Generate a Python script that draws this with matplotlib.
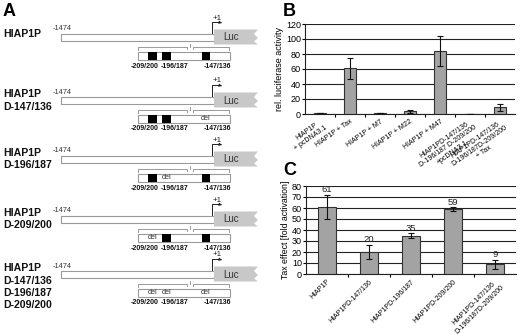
import numpy as np
import matplotlib
matplotlib.use("Agg")
from matplotlib import pyplot as plt
from matplotlib.patches import Rectangle, Polygon

plt.rcParams["font.family"] = ["Liberation Sans", "DejaVu Sans"]

# ---- panel A: constructs ----
construct_names = [
    ["HIAP1P"],
    ["HIAP1P", "D-147/136"],
    ["HIAP1P", "D-196/187"],
    ["HIAP1P", "D-209/200"],
    ["HIAP1P", "D-147/136", "D-196/187", "D-209/200"],
]
site_names = ["-209/200", "-196/187", "-147/136"]
# which sites are deleted in each construct (True = deleted)
deleted = [
    [False, False, False],
    [False, False, True],
    [False, True, False],
    [True, False, False],
    [True, True, True],
]

# ---- panel B ----
b_labels = [
    "HIAP1P\n+ pcDNA3.1",
    "HIAP1P + Tax",
    "HIAP1P + M7",
    "HIAP1P + M22",
    "HIAP1P + M47",
    "HIAP1PD-147/136\nD-196/187 D-209/200\n+pcDNA3.1",
    "HIAP1PD-147/136\nD-196/187D-209/200\n+ Tax",
]
b_values = [1, 61, 1, 4, 84, 0.5, 9]
b_errors = [0, 14, 0.3, 2, 20, 0, 5]

# ---- panel C ----
c_labels = [
    "HIAP1P",
    "HIAP1PD-147/136",
    "HIAP1PD-196/187",
    "HIAP1PD-209/200",
    "HIAP1PD-147/136\nD-196/187D-209/200",
]
c_values = [61, 20, 35, 59, 9]
c_errors = [11, 6.5, 2, 1.5, 4]

W, H = 520, 334
fig = plt.figure(figsize=(W / 100, H / 100), dpi=100)

# panel A drawn in pixel coordinates
axA = fig.add_axes([0, 0, 270 / W, 1])
axA.set_xlim(0, 270)
axA.set_ylim(H, 0)
axA.axis("off")

row_y = [37, 100, 159, 219, 274]        # centre of the promoter bar
bar_x0, bar_x1 = 61, 214                 # promoter bar
luc_x1 = 258
box_x0, box_x1 = 138, 230                # enlarged region
site_x = [(148, 157), (162, 171), (202, 210)]
site_label_x = [145, 175, 217]
edge = "#9a9a9a"

for names, dels, y in zip(construct_names, deleted, row_y):
    # row label
    top = y - 8 if len(names) == 1 else y - 11
    for k, nm in enumerate(names):
        axA.text(3, top + 12.5 * k, nm, fontsize=7.6, fontweight="bold",
                 va="top", ha="left", color="#111111")
    axA.text(53, y - 8, "-1474", fontsize=5.3, ha="left", va="center",
             color="#333333")
    axA.add_patch(Rectangle((bar_x0, y - 3.5), bar_x1 - bar_x0, 7,
                            facecolor="white", edgecolor=edge, lw=0.8))
    # Luc reporter with torn right end
    luc = Polygon([(bar_x1, y - 7.5), (luc_x1, y - 7.5), (luc_x1 - 4, y - 3),
                   (luc_x1, y + 1), (luc_x1 - 4, y + 4.5), (luc_x1, y + 7.5),
                   (bar_x1, y + 7.5)], closed=True,
                  facecolor="#c8c8c8", edgecolor="none")
    axA.add_patch(luc)
    axA.text(231, y + 0.5, "Luc", fontsize=7, ha="center", va="center",
             color="#333333")
    # transcription start arrow
    axA.plot([212, 212, 219], [y - 4, y - 15, y - 15], color="#222222", lw=0.7)
    axA.annotate("", xy=(222, y - 14), xytext=(218, y - 15),
                 arrowprops=dict(arrowstyle="-|>", color="#222222", lw=0.6,
                                 mutation_scale=4))
    axA.text(217, y - 19, "+1", fontsize=5.8, ha="center", va="center",
             color="#222222")
    # zoom brackets
    by = y + 10
    axA.plot([box_x0, box_x0, 187, 187], [by + 3, by, by, by + 2],
             color=edge, lw=0.7)
    axA.plot([193, 193, box_x1 - 1, box_x1 - 1], [by + 2, by, by, by + 3],
             color=edge, lw=0.7)
    axA.plot([190, 190], [by - 3, by], color=edge, lw=0.7)
    # enlarged region with binding sites
    axA.add_patch(Rectangle((box_x0, y + 15), box_x1 - box_x0, 8,
                            facecolor="white", edgecolor=edge, lw=0.8))
    for (sx0, sx1), is_del in zip(site_x, dels):
        if is_del:
            axA.text((sx0 + sx1) / 2, y + 18.5, "del", fontsize=5.3,
                     ha="center", va="center", color="#333333")
        else:
            axA.add_patch(Rectangle((sx0, y + 15), sx1 - sx0, 8,
                                    facecolor="black", edgecolor="none"))
    for lx, nm in zip(site_label_x, site_names):
        axA.text(lx, y + 29, nm, fontsize=5.0, fontweight="bold",
                 ha="center", va="center", color="#111111")

fig.text(3 / W, 1 - 3 / H, "A", fontsize=13, fontweight="bold",
         va="top", ha="left")
fig.text(283 / W, 1 - 3 / H, "B", fontsize=13, fontweight="bold",
         va="top", ha="left")
fig.text(283 / W, 1 - 162 / H, "C", fontsize=13, fontweight="bold",
         va="top", ha="left")


def bar_panel(rect, labels, values, errors, ymax, step, ylabel, angle,
              ylabel_size, show_values=False):
    ax = fig.add_axes(rect)
    x = np.arange(len(values))
    ax.bar(x, values, width=0.42, color="#a3a3a3", edgecolor="#333333",
           lw=0.8, zorder=3)
    ax.errorbar(x, values, yerr=errors, fmt="none", ecolor="#111111",
                elinewidth=0.8, capsize=2, capthick=0.8, zorder=4)
    ax.set_xlim(-0.5, len(values) - 0.5)
    ax.set_ylim(0, ymax)
    ax.set_yticks(np.arange(0, ymax + 1, step))
    ax.yaxis.grid(True, color="#222222", lw=0.8, zorder=0)
    ax.set_axisbelow(True)
    for s in ["top", "right"]:
        ax.spines[s].set_visible(False)
    for s in ["left", "bottom"]:
        ax.spines[s].set_color("#222222")
        ax.spines[s].set_linewidth(0.8)
    ax.tick_params(axis="y", labelsize=6.5, length=2, pad=1, width=0.8)
    ax.set_xticks(x)
    ax.set_xticklabels(labels, rotation=angle, ha="right", va="top",
                       rotation_mode="anchor", fontsize=5.0,
                       multialignment="center", linespacing=1.1)
    ax.tick_params(axis="x", which="major", length=0, pad=3)
    ax.set_xticks(np.arange(0.5, len(values) - 0.5), minor=True)
    ax.tick_params(axis="x", which="minor", length=2.5, width=0.8)
    ax.set_ylabel(ylabel, fontsize=ylabel_size, labelpad=1)
    if show_values:
        for xi, v, e in zip(x, values, errors):
            ax.annotate(f"{v}", (xi, v + e), xytext=(0, 0.5),
                        textcoords="offset points", ha="center", va="bottom",
                        fontsize=6.8, color="#222222", zorder=5)
    return ax


bar_panel([305 / W, 1 - 114 / H, 210 / W, 90 / H], b_labels, b_values,
          b_errors, 120, 20, "rel. luciferase activity", 35, 6.5)
bar_panel([306 / W, 1 - 274 / H, 210 / W, 88 / H], c_labels, c_values,
          c_errors, 80, 10, "Tax effect [fold activation]", 45, 6.3,
          show_values=True)

fig.savefig("out.png", dpi=100)
